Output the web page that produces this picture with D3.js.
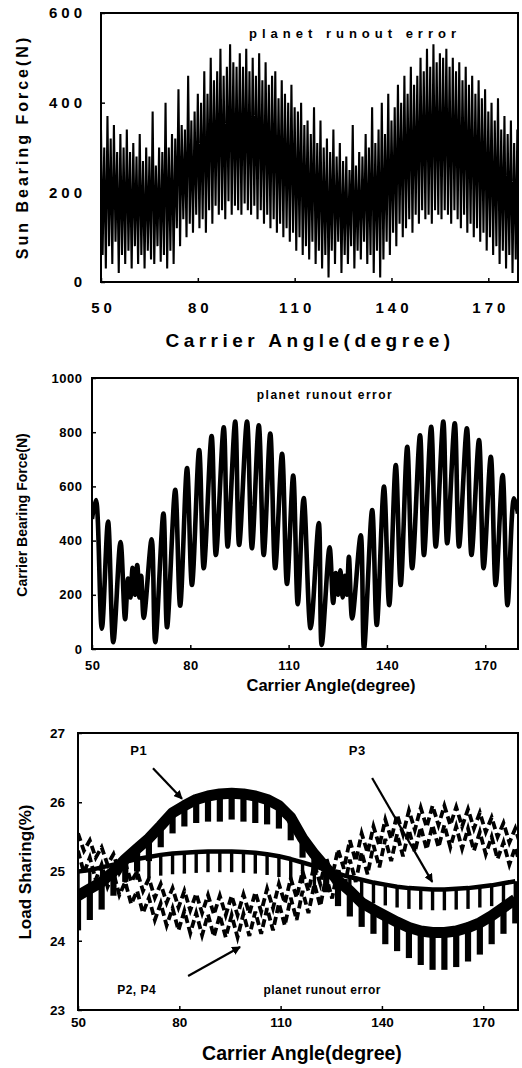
<!DOCTYPE html>
<html><head><meta charset="utf-8">
<script src="https://cdn.jsdelivr.net/npm/d3@7"></script>
<style>
html,body{margin:0;padding:0;background:#fff;}
svg{display:block;}
text{font-family:Arial,"Liberation Sans",sans-serif;font-weight:bold;fill:#000;}
</style></head><body>
<svg id="c" width="522" height="1068"></svg>
<script>
// ---------- DATA ----------
// Panel 1: Sun bearing force (N), one high/low pair per degree, 50..179
const sunAngle = d3.range(50, 180, 1);
const sunHi = [340,300,370,320,350,290,330,300,340,290,
  310,280,330,270,300,280,380,260,300,290,
  400,300,330,320,430,350,340,460,360,380,
  420,400,470,420,500,450,470,520,460,480,
  530,490,480,510,480,520,470,500,460,510,
  450,490,440,460,470,410,450,420,400,440,
  390,380,400,350,360,330,390,310,360,300,
  320,290,340,280,310,270,280,250,350,260,
  290,280,330,300,390,310,340,400,330,420,
  360,390,440,400,460,420,480,440,460,500,
  470,520,480,530,490,510,500,520,480,500,
  470,490,450,480,440,460,420,450,410,430,
  380,400,360,410,340,370,330,360,310,340];
const sunLo = [60,30,80,40,90,20,60,40,70,30,
  80,40,60,30,70,50,40,80,45,60,
  30,70,40,120,80,140,100,130,110,150,
  120,140,110,160,130,170,150,160,140,180,
  150,170,160,150,175,160,150,170,140,160,
  130,150,120,140,110,130,100,120,90,110,
  70,100,60,80,50,90,40,70,30,60,
  10,70,40,90,20,60,40,80,30,70,
  50,90,40,60,20,70,10,50,90,60,
  110,80,130,100,120,140,110,150,130,160,
  140,150,130,160,150,140,160,150,130,160,
  140,120,150,110,130,100,120,90,110,70,
  100,60,80,40,70,30,60,20,50,10];

// Panel 2: Carrier bearing force (N), peaks and troughs
const carrierAngle = [50,51.2,53.0,54.9,56.5,58.7,60.1,61.0,61.7,62.4,63.1,63.8,64.5,65.0,65.8,68.2,69.3,71.8,72.9,75.4,76.9,79.0,80.5,82.7,84.1,86.5,87.8,90.2,91.4,93.7,94.9,97.3,98.8,100.9,102.4,104.4,105.9,108.0,109.5,111.4,112.8,114.6,116.7,119.2,120.1,122.5,123.6,124.4,125.1,125.8,126.5,127.2,127.8,128.4,129.4,132.0,133.0,135.5,136.9,139.1,140.7,142.7,144.2,146.2,147.7,150.1,151.3,153.5,154.9,157.2,158.4,160.7,162.0,164.4,165.8,168.1,169.5,171.7,173.2,175.3,176.8,178.8,180];
const carrierForce = [480,550,75,470,25,395,110,260,190,300,200,310,190,270,115,405,25,500,80,587,160,668,236,734,298,786,347,818,378,839,384,839,372,825,347,795,298,720,240,640,165,557,77,465,15,375,170,280,200,290,190,270,200,340,113,420,0,513,89,599,162,679,236,746,298,789,347,820,378,839,390,833,378,814,347,771,298,709,236,642,162,556,500];

// Panel 3: Load sharing (%): per ripple cycle, high level (hi) and dip (lo)
const lsAngle = [50,53.5,57,60.5,64,67.5,71,74.5,78,81.5,85,88.5,92,95.5,99,102.5,106,109.5,113,116.5,120,123.5,127,130.5,134,137.5,141,144.5,148,151.5,155,158.5,162,165.5,169,172.5,176,179.5];
const p1Hi = [24.65,24.75,24.85,25.0,25.18,25.33,25.48,25.66,25.85,25.95,26.04,26.09,26.12,26.13,26.12,26.09,26.04,25.95,25.78,25.48,25.25,25.05,24.87,24.72,24.55,24.45,24.36,24.27,24.19,24.14,24.12,24.12,24.14,24.19,24.26,24.36,24.48,24.6];
const p1Lo = [24.15,24.3,24.45,24.65,24.85,25.0,25.15,25.35,25.55,25.65,25.7,25.72,25.72,25.75,25.72,25.7,25.68,25.62,25.45,25.2,24.95,24.7,24.5,24.35,24.2,24.1,23.95,23.85,23.75,23.65,23.58,23.58,23.62,23.7,23.8,23.95,24.1,24.25];
const p3Hi = [25.0,25.02,25.06,25.1,25.14,25.18,25.21,25.24,25.26,25.27,25.28,25.29,25.29,25.29,25.28,25.27,25.25,25.22,25.18,25.13,25.08,25.02,24.97,24.92,24.88,24.84,24.81,24.78,24.76,24.75,24.74,24.74,24.75,24.76,24.78,24.8,24.83,24.86];
const p3Lo = [24.72,24.74,24.77,24.8,24.84,24.88,24.91,24.94,24.96,24.97,24.98,24.99,24.99,24.99,24.98,24.97,24.95,24.92,24.88,24.83,24.78,24.72,24.67,24.62,24.58,24.54,24.51,24.48,24.46,24.45,24.44,24.44,24.45,24.46,24.48,24.5,24.53,24.56];
const p2Hi = [25.55,25.45,25.35,25.25,25.12,25.0,24.9,24.82,24.76,24.72,24.68,24.66,24.65,24.65,24.67,24.7,24.75,24.82,24.9,25.0,25.1,25.2,25.32,25.45,25.55,25.65,25.75,25.82,25.88,25.92,25.95,25.95,25.93,25.9,25.85,25.78,25.7,25.62];
const p2Lo = [25.3,25.2,25.1,24.98,24.85,24.72,24.62,24.55,24.48,24.44,24.4,24.38,24.37,24.37,24.39,24.42,24.47,24.54,24.62,24.72,24.82,24.92,25.04,25.15,25.27,25.37,25.47,25.54,25.6,25.64,25.67,25.67,25.65,25.62,25.57,25.5,25.42,25.35];
const p4Hi = [25.3,25.2,25.1,24.98,24.85,24.72,24.62,24.54,24.47,24.43,24.4,24.38,24.37,24.37,24.39,24.42,24.47,24.54,24.62,24.72,24.82,24.93,25.05,25.17,25.28,25.38,25.47,25.54,25.6,25.64,25.67,25.67,25.65,25.62,25.57,25.5,25.42,25.35];
const p4Lo = [24.98,24.88,24.78,24.66,24.53,24.4,24.3,24.22,24.15,24.11,24.08,24.06,24.05,24.05,24.07,24.1,24.15,24.22,24.3,24.4,24.5,24.61,24.73,24.85,24.96,25.06,25.15,25.22,25.28,25.32,25.35,25.35,25.33,25.3,25.25,25.18,25.1,25.03];

const xTickValues = [50,80,110,140,170];
const sunTicks = [0,200,400,600];
const carrierTicks = [0,200,400,600,800,1000];
const lsTicks = [23,24,25,26,27];

// ---------- DRAW ----------
const svg = d3.select('#c');
const defs = svg.append('defs');
defs.append('marker').attr('id','ah').attr('viewBox','0 0 10 10').attr('refX',9).attr('refY',5)
  .attr('markerWidth',4).attr('markerHeight',4).attr('orient','auto').attr('markerUnits','strokeWidth')
  .append('path').attr('d','M0,0 L10,5 L0,10 Z').attr('fill','#000');

function panel(c) {
  const x = d3.scaleLinear().domain(c.xDomain).range([c.left, c.right]);
  const y = d3.scaleLinear().domain(c.yDomain).range([c.bottom, c.top]);
  defs.append('clipPath').attr('id','clip'+c.name).append('rect')
    .attr('x',c.left).attr('y',c.top).attr('width',c.right-c.left).attr('height',c.bottom-c.top);
  const g = svg.append('g');
  const plot = g.append('g').attr('clip-path',`url(#clip${c.name})`);
  const xa = g.append('g').attr('transform',`translate(0,${c.bottom})`)
    .call(d3.axisBottom(x).tickValues(xTickValues).tickSize(-4).tickPadding(0).tickFormat(d3.format('d')));
  xa.select('.domain').remove();
  xa.selectAll('line').attr('stroke','#000').attr('stroke-width',1.5);
  xa.selectAll('text').attr('y',c.xLabOff).attr('dy','0.35em').attr('dx',(c.ls/2)+'px')
    .attr('font-size',c.tickFont).attr('font-family',null).style('letter-spacing',c.ls+'px');
  const ya = g.append('g').attr('transform',`translate(${c.left},0)`)
    .call(d3.axisLeft(y).tickValues(c.yTicks).tickSize(-4).tickPadding(c.yLabPad).tickFormat(d3.format('d')));
  ya.select('.domain').remove();
  ya.selectAll('line').attr('stroke','#000').attr('stroke-width',1.5);
  ya.selectAll('text').attr('dx',c.ls+'px').attr('font-size',c.tickFont).attr('font-family',null).style('letter-spacing',c.ls+'px');
  g.append('rect').attr('x',c.left).attr('y',c.top).attr('width',c.right-c.left).attr('height',c.bottom-c.top)
    .attr('fill','none').attr('stroke','#000').attr('stroke-width',2);
  g.append('text').attr('x',c.xTitle[0]).attr('y',c.xTitle[1]).attr('text-anchor','middle').attr('dy','0.35em')
    .attr('font-size',c.xTitleFont).style('letter-spacing',c.titleLs+'px').text('Carrier Angle(degree)');
  g.append('text').attr('transform',`translate(${c.yTitle[0]},${c.yTitle[1]}) rotate(-90)`).attr('text-anchor','middle').attr('dy','0.35em')
    .attr('font-size',c.yTitleFont).style('letter-spacing',c.yTitleLs+'px').text(c.yTitleText);
  return {x,y,plot,g};
}

// Panel 1
const P1 = panel({name:'a',left:101,right:518,top:13,bottom:282,xDomain:[50,179.2],yDomain:[0,600],yTicks:sunTicks,
  xLabOff:26,yLabPad:19,tickFont:15,ls:4,xTitle:[310,340],xTitleFont:19,titleLs:4.5,
  yTitle:[22,147],yTitleFont:16,yTitleLs:3,yTitleText:'Sun Bearing Force(N)'});
const sunPts = [];
sunAngle.forEach((a,i)=>{ sunPts.push([a,sunHi[i]]); sunPts.push([a+0.5,sunLo[i]]); });
P1.plot.append('path').datum(sunPts).attr('fill','none').attr('stroke','#000').attr('stroke-width',2.1)
  .attr('d',d3.line().x(d=>P1.x(d[0])).y(d=>P1.y(d[1])));
P1.g.append('text').attr('x',355).attr('y',33).attr('text-anchor','middle').attr('dy','0.35em')
  .attr('font-size',13).style('letter-spacing','5px').text('planet runout error');

// Panel 2
const P2 = panel({name:'b',left:92,right:518,top:378,bottom:649,xDomain:[50,180],yDomain:[0,1000],yTicks:carrierTicks,
  xLabOff:16,yLabPad:10,tickFont:13,ls:0.5,xTitle:[331,685],xTitleFont:16.5,titleLs:0,
  yTitle:[22,515],yTitleFont:14,yTitleLs:0,yTitleText:'Carrier Bearing Force(N)'});
P2.plot.append('path').datum(carrierAngle.map((a,i)=>[a,carrierForce[i]])).attr('fill','none').attr('stroke','#000')
  .attr('stroke-width',4.6).attr('stroke-linejoin','round')
  .attr('d',d3.line().x(d=>P2.x(d[0])).y(d=>P2.y(d[1])).curve(d3.curveCatmullRom.alpha(0.5)));
P2.g.append('text').attr('x',325).attr('y',395).attr('text-anchor','middle').attr('dy','0.35em')
  .attr('font-size',12).style('letter-spacing','1.5px').text('planet runout error');

// Panel 3
const P3 = panel({name:'c',left:78,right:518,top:733,bottom:1010,xDomain:[50,180.3],yDomain:[23,27],yTicks:lsTicks,
  xLabOff:12,yLabPad:13,tickFont:13.5,ls:0,xTitle:[302,1053],xTitleFont:19.5,titleLs:0,
  yTitle:[25,872],yTitleFont:17,yTitleLs:0,yTitleText:'Load Sharing(%)'});
const lsLine = d3.line().x(d=>P3.x(d[0])).y(d=>P3.y(d[1]));
// dashed planets (P2, P4): saw-tooth ripple between hi and lo, dashed stroke
[[p2Hi,p2Lo],[p4Hi,p4Lo]].forEach(([hi,lo])=>{
  const pts = [];
  lsAngle.forEach((a,i)=>{ pts.push([a,hi[i]]); pts.push([a+1.75,lo[i]]); });
  P3.plot.append('path').datum(pts).attr('fill','none').attr('stroke','#000')
    .attr('stroke-width',3.8).attr('stroke-dasharray','8,4').attr('d',lsLine);
});
// solid planets (P3, P1): band along the high level with ripple dips hanging below
[{hi:p3Hi, lo:p3Lo, crest:4.5, bar:3.4},{hi:p1Hi, lo:p1Lo, crest:11, bar:6.2}].forEach(s=>{
  P3.plot.append('path').datum(lsAngle.map((a,i)=>[a,s.hi[i]])).attr('fill','none').attr('stroke','#000')
    .attr('stroke-width',s.crest).attr('stroke-linejoin','round').attr('d',lsLine);
  P3.plot.selectAll(null).data(lsAngle.map((a,i)=>[[a,s.hi[i]],[a,s.lo[i]]])).enter()
    .append('path').attr('fill','none').attr('stroke','#000').attr('stroke-width',s.bar)
    .attr('stroke-linecap','butt').attr('d',lsLine);
});
const lsNotes = [
  {t:'P1', a:68, v:26.75, anchor:'middle', size:13},
  {t:'P3', a:132.7, v:26.75, anchor:'middle', size:13},
  {t:'P2, P4', a:61.6, v:23.29, anchor:'start', size:12},
  {t:'planet runout error', a:122.3, v:23.29, anchor:'middle', size:12}
];
lsNotes.forEach(n=>{
  P3.g.append('text').attr('x',P3.x(n.a)).attr('y',P3.y(n.v)).attr('dy','0.35em').attr('text-anchor',n.anchor)
    .attr('font-size',n.size).style('letter-spacing','0.5px').text(n.t);
});
const lsArrows = [
  {from:[72.2,26.49], to:[80.8,26.05]},
  {from:[137.1,26.35], to:[154.9,24.85]},
  {from:[82.6,23.49], to:[98.0,23.91]}
];
lsArrows.forEach(r=>{
  P3.g.append('line').attr('x1',P3.x(r.from[0])).attr('y1',P3.y(r.from[1]))
    .attr('x2',P3.x(r.to[0])).attr('y2',P3.y(r.to[1])).attr('stroke','#000').attr('stroke-width',2.2)
    .attr('marker-end','url(#ah)');
});
</script>
</body></html>
